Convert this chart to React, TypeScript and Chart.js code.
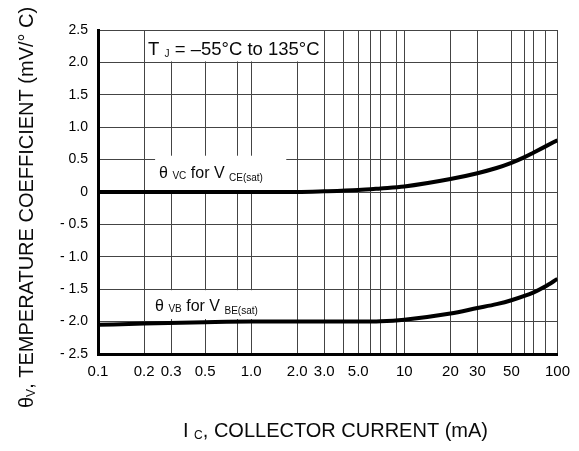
import { useEffect, useRef } from 'react';
import { Chart, registerables } from 'chart.js';

Chart.register(...registerables);

const FONT = '"Liberation Sans", Arial, Helvetica, sans-serif';

// Vertical grid positions (mA) and their tick labels
const xGridValues = [0.1, 0.2, 0.3, 0.5, 0.82, 1, 2, 3, 4, 5, 6, 7, 8.9, 10, 20, 30, 50, 61, 70, 83, 100];
const xTickLabels = ['0.1', '0.2', '0.3', '0.5', '', '1.0', '2.0', '3.0', '', '5.0', '', '', '', '10', '20', '30', '50', '', '', '', '100'];

// Y tick labels, bottom to top
const yTickLabels = ['- 2.5', '- 2.0', '- 1.5', '- 1.0', '- 0.5', '0', '0.5', '1.0', '1.5', '2.0', '2.5'];

// θVC for VCE(sat)
const currentVC = [0.1, 0.3, 1, 2, 3, 5, 7, 10, 20, 30, 40, 50, 60, 70, 83, 100];
const thetaVC = [0, 0, 0, 0, 0.01, 0.03, 0.055, 0.085, 0.2, 0.29, 0.37, 0.45, 0.53, 0.61, 0.7, 0.8];

// θVB for VBE(sat)
const currentVB = [0.1, 0.2, 0.5, 1, 2, 5, 7, 10, 20, 30, 40, 50, 70, 83, 100];
const thetaVB = [-2.05, -2.03, -2.01, -2.0, -2.0, -2.0, -1.995, -1.97, -1.875, -1.79, -1.73, -1.67, -1.55, -1.46, -1.34];

type Part = { text: string; size: number; dy?: number };

function drawRich(ctx: CanvasRenderingContext2D, x: number, y: number, parts: Part[]) {
  let cx = x;
  for (const p of parts) {
    ctx.font = `${p.size}px ${FONT}`;
    ctx.fillText(p.text, cx, y + (p.dy || 0));
    cx += ctx.measureText(p.text).width;
  }
  return cx;
}

const annotationPlugin = {
  id: 'annotations',
  beforeDatasetsDraw(chart: any) {
    const { ctx } = chart;
    const x = chart.scales.x;
    const y = chart.scales.y;
    const x02 = x.getPixelForValue(0.2);
    const x2 = x.getPixelForValue(2);
    const x3 = x.getPixelForValue(3);
    ctx.save();
    ctx.fillStyle = '#ffffff';
    // box behind T_J note
    const yTop = y.getPixelForValue(2.5);
    const y20 = y.getPixelForValue(2.0);
    ctx.fillRect(x02 + 1, yTop + 1, x3 - x02 - 2, y20 - yTop - 2);
    // box behind θVC label
    const b2t = y.getPixelForValue(0.56);
    const b2b = y.getPixelForValue(0.02);
    ctx.fillRect(x02 + 11, b2t, x2 - 11 - (x02 + 11), b2b - b2t);
    // box behind θVB label
    const b3t = y.getPixelForValue(-1.5) + 1;
    const b3b = y.getPixelForValue(-1.96);
    ctx.fillRect(x02 + 11, b3t, x2 - 8 - (x02 + 11), b3b - b3t);

    ctx.fillStyle = '#0a0a0a';
    ctx.textBaseline = 'alphabetic';
    ctx.textAlign = 'left';
    drawRich(ctx, x02 + 4, yTop + 25, [
      { text: 'T ', size: 18.5 },
      { text: 'J', size: 10, dy: 2 },
      { text: ' = –55°C to 135°C', size: 18.5 },
    ]);
    drawRich(ctx, x02 + 15, y.getPixelForValue(0) - 14, [
      { text: 'θ ', size: 16 },
      { text: 'VC', size: 10, dy: 1 },
      { text: ' for V ', size: 16 },
      { text: 'CE(sat)', size: 10, dy: 3 },
    ]);
    drawRich(ctx, x02 + 11, y.getPixelForValue(-2.0) - 11, [
      { text: 'θ ', size: 16 },
      { text: 'VB', size: 10, dy: 1 },
      { text: ' for V ', size: 16 },
      { text: 'BE(sat)', size: 10, dy: 3 },
    ]);
    ctx.restore();
  },
  afterDraw(chart: any) {
    const { ctx } = chart;
    ctx.save();
    ctx.fillStyle = '#0a0a0a';
    ctx.textBaseline = 'alphabetic';
    ctx.textAlign = 'left';
    // X axis title
    drawRich(ctx, 183, 437, [
      { text: 'I ', size: 20 },
      { text: 'C', size: 12, dy: 2 },
      { text: ', COLLECTOR CURRENT (mA)', size: 20 },
    ]);
    // Y axis title (rotated)
    ctx.translate(33, 408);
    ctx.rotate(-Math.PI / 2);
    drawRich(ctx, 0, 0, [
      { text: 'θ', size: 20 },
      { text: 'V', size: 12, dy: 2 },
      { text: ', TEMPERATURE COEFFICIENT (mV/° C)', size: 20 },
    ]);
    ctx.restore();
  },
};

export default function App() {
  const canvasRef = useRef<HTMLCanvasElement | null>(null);

  useEffect(() => {
    const canvas = canvasRef.current;
    if (!canvas) return;
    const chart = new Chart(canvas, {
      type: 'line',
      data: {
        datasets: [
          {
            label: 'θVC for VCE(sat)',
            data: currentVC.map((c, i) => ({ x: c, y: thetaVC[i] })),
            borderColor: '#000000',
            borderWidth: 4,
            pointRadius: 0,
            cubicInterpolationMode: 'monotone',
            fill: false,
          },
          {
            label: 'θVB for VBE(sat)',
            data: currentVB.map((c, i) => ({ x: c, y: thetaVB[i] })),
            borderColor: '#000000',
            borderWidth: 4,
            pointRadius: 0,
            cubicInterpolationMode: 'monotone',
            fill: false,
          },
        ],
      },
      options: {
        responsive: false,
        animation: false,
        layout: { padding: { left: 0, right: 20, top: 30, bottom: 0 } },
        plugins: {
          legend: { display: false },
          tooltip: { enabled: false },
          title: { display: false },
        },
        scales: {
          x: {
            type: 'logarithmic',
            min: 0.1,
            max: 100,
            afterBuildTicks: (scale: any) => {
              scale.ticks = xGridValues.map((v) => ({ value: v }));
            },
            afterFit: (scale: any) => {
              scale.height = 97;
            },
            ticks: {
              autoSkip: false,
              maxRotation: 0,
              minRotation: 0,
              padding: 9,
              color: '#000000',
              font: { family: FONT, size: 15 },
              callback: (_v: any, i: number) => xTickLabels[i] ?? '',
            },
            grid: { color: '#444444', lineWidth: 1, drawTicks: false, tickLength: 0 },
            border: { color: '#000000', width: 3 },
          },
          y: {
            type: 'linear',
            min: -2.5,
            max: 2.5,
            ticks: {
              stepSize: 0.5,
              padding: 10,
              color: '#000000',
              font: { family: FONT, size: 14 },
              callback: (_v: any, i: number) => yTickLabels[i] ?? '',
            },
            afterFit: (scale: any) => {
              scale.width = 98;
            },
            grid: { color: '#444444', lineWidth: 1, drawTicks: false, tickLength: 0 },
            border: { color: '#000000', width: 3 },
          },
        },
      },
      plugins: [annotationPlugin],
    } as any);
    return () => chart.destroy();
  }, []);

  return (
    <div style={{ position: 'absolute', left: 0, top: 0, width: 579, height: 451, background: '#fff' }}>
      <canvas ref={canvasRef} width={579} height={451} style={{ display: 'block' }} />
    </div>
  );
}
